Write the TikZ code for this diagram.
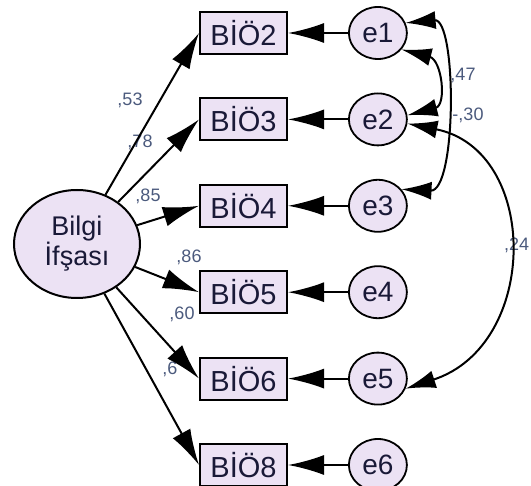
\documentclass[tikz,border=0pt]{standalone}
\usepackage{fontspec}
\setmainfont{Liberation Sans}
\usetikzlibrary{arrows.meta,positioning,shapes.geometric}
\definecolor{amosfill}{RGB}{236,226,244}
\definecolor{amostext}{RGB}{25,25,55}
\definecolor{amoslabel}{RGB}{75,90,125}
\tikzset{
  obsbox/.style={draw, line width=2pt, fill=amosfill, minimum width=87pt, minimum height=42pt, inner sep=0pt, font=\fontsize{29}{30}\selectfont, text=amostext},
  errnode/.style={draw, ellipse, line width=1.8pt, fill=amosfill, minimum width=58pt, minimum height=52pt, inner sep=0pt, font=\fontsize{28}{30}\selectfont, text=amostext},
  latnode/.style={draw, ellipse, line width=2pt, fill=amosfill, minimum width=126pt, minimum height=108pt, inner sep=0pt, align=center, font=\fontsize{27}{26}\selectfont, text=amostext},
  loadarrow/.style={-{Latex[length=36pt,width=20pt]}, line width=2pt},
  covarrow/.style={{Latex[length=30pt,width=18pt]}-{Latex[length=30pt,width=18pt]}, line width=2pt},
  coeff/.style={font=\fontsize{18}{18}\selectfont, text=amoslabel, inner sep=0pt}
}

\begin{document}
\begin{tikzpicture}[x=1pt, y=1pt, node distance=42.4pt and 60pt]
\useasboundingbox (0,0) rectangle (531,-486);
\node[latnode] (lat) at (77,-244) {Bilgi\\İfşası};
\node[obsbox] (b2) at (243.5,-33) {BİÖ2};
\node[obsbox, below=of b2] (b3) {BİÖ3};
\node[obsbox, below=of b3] (b4) {BİÖ4};
\node[obsbox, below=of b4] (b5) {BİÖ5};
\node[obsbox, below=of b5] (b6) {BİÖ6};
\node[obsbox, below=of b6] (b8) {BİÖ8};
\node[errnode, right=of b2] (e1) {e1};
\node[errnode, right=of b3] (e2) {e2};
\node[errnode, right=of b4] (e3) {e3};
\node[errnode, right=of b5] (e4) {e4};
\node[errnode, right=of b6] (e5) {e5};
\node[errnode, right=of b8] (e6) {e6};
% loadings
\node[coeff] (c2) at (130,-100) {,53};
\node[coeff] (c3) at (140,-142) {,78};
\node[coeff] (c4) at (148,-196) {,85};
\node[coeff] (c5) at (189,-257) {,86};
\node[coeff] (c6) at (182,-314) {,60};
\node[coeff] (c8) at (170,-369) {,6};
\draw[loadarrow] (lat) -- (b2.west);
\draw[loadarrow] (lat) -- (b3.west);
\draw[loadarrow] (lat) -- (b4.west);
\draw[loadarrow] (lat) -- (b5.west);
\draw[loadarrow] (lat) -- (b6.west);
\draw[loadarrow] (lat) -- (b8.west);
% error terms
\draw[loadarrow] (e1) -- (b2);
\draw[loadarrow] (e2) -- (b3);
\draw[loadarrow] (e3) -- (b4);
\draw[loadarrow] (e4) -- (b5);
\draw[loadarrow] (e5) -- (b6);
\draw[loadarrow] (e6) -- (b8);
% covariances
\node[coeff] (r12) at (463,-75) {,47};
\node[coeff] (r13) at (468,-115) {-,30};
\node[coeff, anchor=west] (r25) at (504,-245) {,24};
\draw[covarrow] (e1.20) .. controls (457,-18) and (457,-192) .. (e3.35);
\draw[covarrow] (e1.-35) .. controls (442,-60) and (447,-105) .. (e2.8);
\draw[covarrow] (e2.-8) .. controls (540,-150) and (540,-345) .. (e5.-20);
\end{tikzpicture}
\end{document}
